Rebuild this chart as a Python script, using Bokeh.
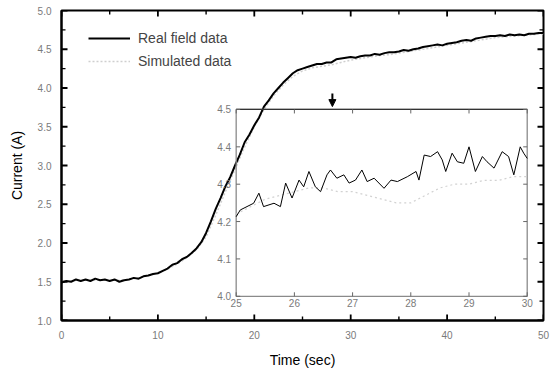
from bokeh.plotting import figure
from bokeh.models import (Range1d, Legend, LegendItem, Arrow, NormalHead,
                          FixedTicker, PrintfTickFormatter)
from bokeh.core.properties import value
from bokeh.embed import file_html
from bokeh.resources import INLINE

# ---------------- data ----------------
real_t = [i * 0.5 for i in range(101)]
real_v = [1.49, 1.51, 1.50, 1.53, 1.51, 1.53, 1.51, 1.54, 1.52, 1.53,
          1.51, 1.53, 1.50, 1.52, 1.53, 1.55, 1.54, 1.57, 1.58, 1.60,
          1.61, 1.64, 1.67, 1.72, 1.74, 1.79, 1.82, 1.87, 1.93, 2.01,
          2.13, 2.28, 2.44, 2.58, 2.73, 2.85, 3.00, 3.14, 3.30, 3.40,
          3.52, 3.62, 3.76, 3.84, 3.93, 4.00, 4.07, 4.13, 4.19, 4.23,
          4.25, 4.27, 4.29, 4.31, 4.31, 4.33, 4.33, 4.37, 4.38, 4.39,
          4.40, 4.39, 4.41, 4.42, 4.42, 4.44, 4.43, 4.45, 4.46, 4.46,
          4.47, 4.49, 4.48, 4.50, 4.51, 4.53, 4.54, 4.55, 4.56, 4.55,
          4.57, 4.58, 4.59, 4.61, 4.62, 4.61, 4.64, 4.65, 4.66, 4.67,
          4.67, 4.68, 4.67, 4.69, 4.68, 4.69, 4.68, 4.70, 4.70, 4.71,
          4.71]

sim_t = list(range(51))
sim_v = [1.50, 1.51, 1.52, 1.52, 1.52, 1.52, 1.52, 1.53, 1.55, 1.58,
         1.61, 1.66, 1.73, 1.81, 1.91, 2.08, 2.36, 2.66, 2.95, 3.24,
         3.50, 3.72, 3.90, 4.04, 4.15, 4.22, 4.26, 4.28, 4.30, 4.33,
         4.36, 4.38, 4.40, 4.42, 4.43, 4.45, 4.47, 4.49, 4.51, 4.53,
         4.55, 4.57, 4.59, 4.61, 4.63, 4.65, 4.66, 4.67, 4.68, 4.69,
         4.70]

inset_real_t = [25.00, 25.07, 25.30, 25.39, 25.47, 25.65, 25.76, 25.85, 25.96,
                26.08, 26.16, 26.25, 26.36, 26.45, 26.56, 26.62, 26.73, 26.85,
                26.94, 27.05, 27.16, 27.25, 27.37, 27.54, 27.66, 27.77, 27.94,
                28.09, 28.14, 28.23, 28.34, 28.46, 28.54, 28.60, 28.71, 28.80,
                28.91, 29.00, 29.11, 29.23, 29.31, 29.43, 29.57, 29.68, 29.77,
                29.88, 29.94, 30.00]
inset_real_v = [4.213, 4.231, 4.249, 4.276, 4.240, 4.249, 4.240, 4.303, 4.263,
                4.311, 4.293, 4.334, 4.293, 4.280, 4.325, 4.338, 4.316, 4.325,
                4.303, 4.311, 4.338, 4.307, 4.316, 4.289, 4.311, 4.307, 4.320,
                4.334, 4.311, 4.378, 4.374, 4.387, 4.365, 4.334, 4.383, 4.360,
                4.356, 4.400, 4.334, 4.374, 4.360, 4.343, 4.387, 4.374, 4.325,
                4.400, 4.383, 4.369]

inset_sim_t = [25 + 0.25 * i for i in range(21)]
inset_sim_v = [4.22, 4.24, 4.26, 4.27, 4.28, 4.29, 4.29, 4.28, 4.28, 4.27,
               4.26, 4.25, 4.25, 4.27, 4.29, 4.30, 4.30, 4.31, 4.31, 4.32,
               4.32]

main_x_range = (0, 50)
main_y_range = (1.0, 5.0)
x_major_ticks = [0, 10, 20, 30, 40, 50]
x_minor_ticks = [5, 15, 25, 35, 45]
y_major_ticks = [1.0, 1.5, 2.0, 2.5, 3.0, 3.5, 4.0, 4.5, 5.0]
y_minor_ticks = [1.25, 1.75, 2.25, 2.75, 3.25, 3.75, 4.25, 4.75]

inset_x_range = (25, 30)
inset_y_range = (4.0, 4.5)
inset_x_ticks = [25, 26, 27, 28, 29, 30]
inset_y_ticks = [4.0, 4.1, 4.2, 4.3, 4.4, 4.5]
inset_x_labels = ["25", "26", "27", "28", "29", "30"]
inset_y_labels = ["4.0", "4.1", "4.2", "4.3", "4.4", "4.5"]

legend_labels = ["Real field data", "Simulated data"]
arrow_t = 28.1

# ---------------- layout constants ----------------
# inset frame position expressed in main data units
box_x0, box_x1 = 18.12, 48.31
box_y0, box_y1 = 1.3125, 3.723

sx = (box_x1 - box_x0) / (inset_x_range[1] - inset_x_range[0])
sy = (box_y1 - box_y0) / (inset_y_range[1] - inset_y_range[0])
ix_start = inset_x_range[0] - (box_x0 - main_x_range[0]) / sx
ix_end = inset_x_range[0] + (main_x_range[1] - box_x0) / sx
iy_start = inset_y_range[0] - (box_y0 - main_y_range[0]) / sy
iy_end = inset_y_range[0] + (main_y_range[1] - box_y0) / sy

FONT = "Liberation Sans"
TICK_COLOR = "#7a7a7a"

FRAME_W, FRAME_H = 482, 311   # frame size in px, used for tick lengths
px_x = (main_x_range[1] - main_x_range[0]) / FRAME_W
px_y = (main_y_range[1] - main_y_range[0]) / FRAME_H

p = figure(width=550, height=370,
           x_range=Range1d(*main_x_range), y_range=Range1d(*main_y_range),
           output_backend="svg", toolbar_location=None,
           min_border_left=61, min_border_top=10, min_border_right=7,
           min_border_bottom=49)
p.grid.visible = False
p.outline_line_color = "black"
p.outline_line_width = 2
p.extra_x_ranges = {"ix": Range1d(ix_start, ix_end)}
p.extra_y_ranges = {"iy": Range1d(iy_start, iy_end)}

for ax in (p.xaxis[0], p.yaxis[0]):
    ax.major_tick_in = 0
    ax.major_tick_out = 0
    ax.minor_tick_in = 0
    ax.minor_tick_out = 0
    ax.axis_line_width = 2
    ax.axis_line_color = "black"
    ax.major_label_text_font = FONT
    ax.major_label_text_font_size = "10px"
    ax.major_label_text_color = TICK_COLOR
    ax.major_label_standoff = 10
    ax.axis_label_text_font = FONT
    ax.axis_label_text_font_size = "14px"
    ax.axis_label_text_font_style = "normal"
    ax.axis_label_text_color = "black"

p.xaxis.ticker = FixedTicker(ticks=x_major_ticks)
p.yaxis.ticker = FixedTicker(ticks=y_major_ticks)
p.yaxis.formatter = PrintfTickFormatter(format="%.1f")
p.xaxis.axis_label = "Time (sec)"
p.yaxis.axis_label = "Current (A)"
p.xaxis.axis_label_standoff = 10
p.yaxis.axis_label_standoff = 10

# inward ticks on all four sides of the main frame
x0, x1 = main_x_range
y0, y1 = main_y_range
for ticks, L, w in ((x_major_ticks, 6, 1.8), (x_minor_ticks, 4, 1.4)):
    n = len(ticks)
    p.segment(x0=ticks, x1=ticks, y0=[y0] * n, y1=[y0 + L * px_y] * n,
              line_color="black", line_width=w)
    p.segment(x0=ticks, x1=ticks, y0=[y1] * n, y1=[y1 - L * px_y] * n,
              line_color="black", line_width=w)
for ticks, L, w in ((y_major_ticks, 6, 1.8), (y_minor_ticks, 4, 1.4)):
    n = len(ticks)
    p.segment(x0=[x0] * n, x1=[x0 + L * px_x] * n, y0=ticks, y1=ticks,
              line_color="black", line_width=w)
    p.segment(x0=[x1] * n, x1=[x1 - L * px_x] * n, y0=ticks, y1=ticks,
              line_color="black", line_width=w)

# main curves
r_sim = p.line(sim_t, sim_v, line_color="#cfcfcf", line_width=1.5, line_dash="2 2")
r_real = p.line(real_t, real_v, line_color="black", line_width=2)

# inset
IN = dict(x_range_name="ix", y_range_name="iy")
p.quad(left=[inset_x_range[0]], right=[inset_x_range[1]],
       bottom=[inset_y_range[0]], top=[inset_y_range[1]],
       fill_color=None, line_color="#8a8a8a", line_width=1.3, **IN)
p.segment(x0=[inset_x_range[0]], x1=[inset_x_range[1]],
          y0=[inset_y_range[1]], y1=[inset_y_range[1]],
          line_color="#333333", line_width=1.3, **IN)

tick_dx = 4 / 58.2
tick_dy = 4 / 374.8
n6 = len(inset_y_ticks)
p.segment(x0=[inset_x_range[0]] * n6, x1=[inset_x_range[0] + tick_dx] * n6,
          y0=inset_y_ticks, y1=inset_y_ticks, line_color="#666", **IN)
p.segment(x0=[inset_x_range[1]] * n6, x1=[inset_x_range[1] - tick_dx] * n6,
          y0=inset_y_ticks, y1=inset_y_ticks, line_color="#666", **IN)
m6 = len(inset_x_ticks)
p.segment(x0=inset_x_ticks, x1=inset_x_ticks,
          y0=[inset_y_range[0]] * m6, y1=[inset_y_range[0] + tick_dy] * m6,
          line_color="#666", **IN)
p.segment(x0=inset_x_ticks, x1=inset_x_ticks,
          y0=[inset_y_range[1]] * m6, y1=[inset_y_range[1] - tick_dy] * m6,
          line_color="#666", **IN)

p.text(x=[inset_x_range[0]] * n6, y=inset_y_ticks, text=inset_y_labels,
       x_offset=-5, text_align="right", text_baseline="middle",
       text_font=value(FONT), text_font_size="10px", text_color=TICK_COLOR, **IN)
p.text(x=inset_x_ticks, y=[inset_y_range[0]] * m6, text=inset_x_labels,
       y_offset=3, text_align="center", text_baseline="top",
       text_font=value(FONT), text_font_size="10px", text_color=TICK_COLOR, **IN)

p.line(inset_sim_t, inset_sim_v, line_color="#d2d2d2", line_width=1.2,
       line_dash="2 3", **IN)
p.line(inset_real_t, inset_real_v, line_color="black", line_width=1, **IN)

# arrow marking the zoomed region
p.add_layout(Arrow(end=NormalHead(size=7, fill_color="black", line_color="black"),
                   x_start=arrow_t, y_start=3.93, x_end=arrow_t, y_end=3.76,
                   line_width=2, line_color="black"))

legend = Legend(items=[LegendItem(label=legend_labels[0], renderers=[r_real]),
                       LegendItem(label=legend_labels[1], renderers=[r_sim])],
                location=(27, 249), background_fill_alpha=0,
                border_line_color=None, label_text_font=FONT,
                label_text_font_size="14px", glyph_width=42, glyph_height=20,
                label_height=20, spacing=3, padding=0, label_standoff=8,
                margin=0)
p.add_layout(legend)

open("out.html", "w").write(file_html(p, INLINE))
